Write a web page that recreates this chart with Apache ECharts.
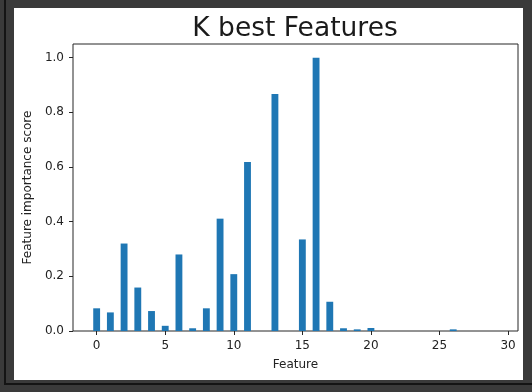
<!DOCTYPE html>
<html>
<head>
<meta charset="utf-8">
<script src="https://cdn.jsdelivr.net/npm/echarts@6/dist/echarts.min.js"></script>
<style>
html,body{margin:0;padding:0;width:532px;height:392px;background:#3a3a3a;overflow:hidden;}
#lineL{position:absolute;left:4px;top:0;width:2px;height:385px;background:#141414;}
#lineB{position:absolute;left:4px;top:383px;width:528px;height:2px;background:#141414;}
#panel{position:absolute;left:14px;top:8px;width:509px;height:372px;background:#ffffff;}
#chart{position:absolute;left:0;top:0;width:532px;height:392px;}
</style>
</head>
<body>
<div id="lineL"></div><div id="lineB"></div>
<div id="panel"></div>
<div id="chart"></div>
<script>
// ---- data ----
const features = [0,1,2,3,4,5,6,7,8,9,10,11,12,13,14,15,16,17,18,19,20,21,22,23,24,25,26,27,28,29];
const scores = [0.083,0.068,0.320,0.159,0.073,0.019,0.280,0.010,0.083,0.411,0.208,0.618,0,0.867,0,0.335,1.000,0.107,0.010,0.006,0.011,0,0,0,0,0,0.006,0,0,0];
const xTicks = [0,5,10,15,20,25,30];
const yTicks = [0,0.2,0.4,0.6,0.8,1.0];
const yTickLabels = ['0.0','0.2','0.4','0.6','0.8','1.0'];
const titleText = 'K best Features';
const xName = 'Feature';
const yName = 'Feature importance score';

const BAR_HALF = 0.25;
const FONT = 'DejaVu Sans';
const chart = echarts.init(document.getElementById('chart'), null, {renderer:'canvas'});
const data = features.map((f,i)=>[f, scores[i]]);

chart.setOption({
  animation:false,
  graphic:[{
    type:'text', x:295, y:29,
    style:{text:titleText, font:'26.5px "DejaVu Sans"', fill:'#1a1a1a', align:'center', verticalAlign:'middle'}
  }],
  grid:{left:73, top:44, width:445, height:287, show:true, borderColor:'#262626', borderWidth:1, backgroundColor:'transparent'},
  xAxis:{
    type:'value', min:-1.725, max:30.725,
    name:xName, nameLocation:'middle', nameGap:28,
    nameTextStyle:{fontFamily:FONT, fontSize:12, color:'#222'},
    axisLine:{show:false, onZero:false},
    axisTick:{show:true, length:4, lineStyle:{color:'#262626'}, customValues:xTicks},
    axisLabel:{fontFamily:FONT, fontSize:12, color:'#222', margin:9, customValues:xTicks,
      formatter:v=>String(v)},
    splitLine:{show:false}
  },
  yAxis:{
    type:'value', min:0, max:1.05,
    name:yName, nameLocation:'middle', nameGap:38, nameRotate:90,
    nameTextStyle:{fontFamily:FONT, fontSize:12, color:'#222'},
    axisLine:{show:false, onZero:false},
    axisTick:{show:true, length:4, lineStyle:{color:'#262626'}, customValues:yTicks},
    axisLabel:{fontFamily:FONT, fontSize:12, color:'#222', margin:9, customValues:yTicks,
      formatter:v=>{const i=yTicks.findIndex(t=>Math.abs(t-v)<1e-9); return i>=0?yTickLabels[i]:'';}},
    splitLine:{show:false}
  },
  series:[{
    type:'custom', clip:true, data:data, encode:{x:0,y:1},
    renderItem:(params, api)=>{
      const x = api.value(0), y = api.value(1);
      const p0 = api.coord([x-BAR_HALF, y]);
      const p1 = api.coord([x+BAR_HALF, 0]);
      return {type:'rect', shape:{x:p0[0], y:p0[1], width:p1[0]-p0[0], height:p1[1]-p0[1]}, style:{fill:'#1f77b4'}};
    }
  }]
});
</script>
</body>
</html>
